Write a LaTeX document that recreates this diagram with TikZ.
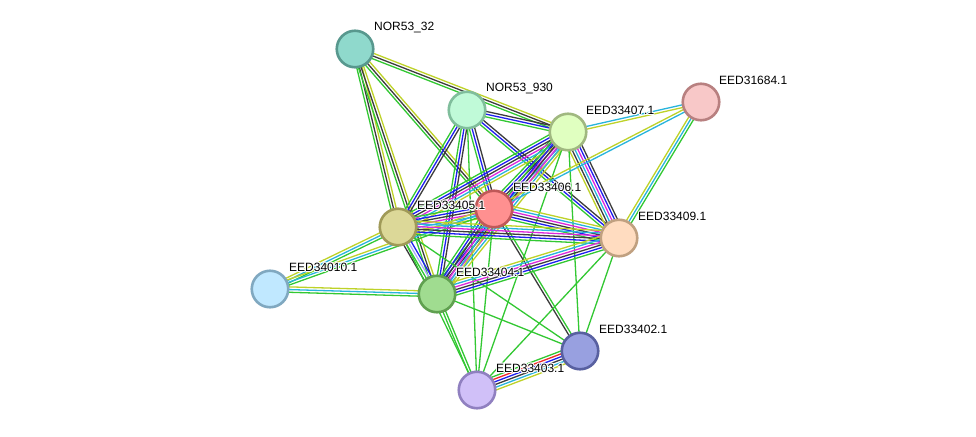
\documentclass[tikz,border=0pt]{standalone}
\usepackage{fontspec}
\setmainfont{Liberation Sans}
\usetikzlibrary{calc}
\pgfdeclarelayer{bg}
\pgfdeclarelayer{edges}
\pgfsetlayers{bg,edges,main}
\definecolor{cnbh}{RGB}{50,200,50}
\definecolor{cfus}{RGB}{240,40,40}
\definecolor{ccooc}{RGB}{30,30,240}
\definecolor{ccoexp}{RGB}{60,60,60}
\definecolor{cexp}{RGB}{220,40,220}
\definecolor{cdb}{RGB}{40,180,220}
\definecolor{ctext}{RGB}{190,210,40}
\definecolor{chom}{RGB}{170,170,250}
\newcommand\edgeb[4]{%
  \foreach \c [count=\i] in {#4}{%
    \pgfmathsetmacro\off{(\i-(#3+1)/2)*2.7}%
    \draw[edgeline, draw=\c] ($(#1)!\off pt!90:(#2)$) -- ($(#2)!\off pt!-90:(#1)$);
  }}
\newcommand\halo[1]{\leavevmode
  \rlap{\color{white}\hspace{-0.9pt}#1}\rlap{\color{white}\hspace{0.9pt}#1}%
  \rlap{\color{white}\raisebox{0.9pt}{#1}}\rlap{\color{white}\raisebox{-0.9pt}{#1}}%
  \rlap{\color{white}\hspace{0.7pt}\raisebox{0.7pt}{#1}}\rlap{\color{white}\hspace{-0.7pt}\raisebox{-0.7pt}{#1}}%
  \rlap{\color{white}\hspace{0.7pt}\raisebox{-0.7pt}{#1}}\rlap{\color{white}\hspace{-0.7pt}\raisebox{0.7pt}{#1}}%
  #1}
\tikzset{
  edgeline/.style={line width=1.3pt},
  prot/.style={circle, minimum size=36.5pt, inner sep=0pt, line width=2.6pt},
  lab/.style={anchor=west, inner sep=0pt, font=\fontsize{12}{14}\selectfont, text=black},
}
\begin{document}
\begin{tikzpicture}[x=1pt,y=-1pt]
\begin{pgfonlayer}{bg}
\fill[white] (0,0) rectangle (976,436);
\end{pgfonlayer}
\path[use as bounding box] (0,0) rectangle (976,436);
% nodes
\node[prot, fill={rgb,255:red,143;green,217;blue,204}, draw={rgb,255:red,88;green,152;blue,142}] (n32) at (355,49) {};
\node[prot, fill={rgb,255:red,192;green,250;blue,216}, draw={rgb,255:red,128;green,190;blue,156}] (n930) at (467,110) {};
\node[prot, fill={rgb,255:red,224;green,255;blue,192}, draw={rgb,255:red,160;green,184;blue,128}] (e407) at (568,132) {};
\node[prot, fill={rgb,255:red,248;green,200;blue,200}, draw={rgb,255:red,184;green,128;blue,128}] (e684) at (701,102) {};
\node[prot, fill={rgb,255:red,255;green,144;blue,144}, draw={rgb,255:red,192;green,88;blue,88}] (e406) at (494,209) {};
\node[prot, fill={rgb,255:red,220;green,216;blue,152}, draw={rgb,255:red,160;green,154;blue,88}] (e405) at (398,227) {};
\node[prot, fill={rgb,255:red,255;green,220;blue,192}, draw={rgb,255:red,192;green,160;blue,128}] (e409) at (619,238) {};
\node[prot, fill={rgb,255:red,192;green,232;blue,255}, draw={rgb,255:red,128;green,168;blue,192}] (e010) at (270,289) {};
\node[prot, fill={rgb,255:red,160;green,220;blue,144}, draw={rgb,255:red,96;green,160;blue,80}] (e404) at (437,294) {};
\node[prot, fill={rgb,255:red,152;green,160;blue,224}, draw={rgb,255:red,88;green,96;blue,160}] (e402) at (580,351) {};
\node[prot, fill={rgb,255:red,208;green,192;blue,248}, draw={rgb,255:red,144;green,128;blue,192}] (e403) at (477,390) {};
% edges
\begin{pgfonlayer}{edges}
\edgeb{n32}{e407}{3}{cnbh,ccoexp,ctext}
\edgeb{n32}{e406}{3}{cnbh,ccoexp,ctext}
\edgeb{n32}{e405}{3}{cnbh,ccoexp,ctext}
\edgeb{n32}{e404}{3}{cnbh,ccoexp,ctext}
\edgeb{n930}{e407}{3}{cnbh,ccooc,ccoexp}
\edgeb{n930}{e406}{3}{cnbh,ccooc,ccoexp}
\edgeb{n930}{e405}{3}{cnbh,ccooc,ccoexp}
\edgeb{n930}{e404}{3}{cnbh,ccooc,ccoexp}
\edgeb{n930}{e409}{3}{cnbh,ccooc,ccoexp}
\edgeb{n930}{e403}{1}{cnbh}
\edgeb{e407}{e684}{2}{ctext,cdb}
\edgeb{e407}{e406}{6}{cnbh,ccooc,ccoexp,cexp,cdb,ctext}
\edgeb{e407}{e405}{6}{cnbh,ccooc,ccoexp,cexp,cdb,ctext}
\edgeb{e407}{e404}{6}{cnbh,ccooc,ccoexp,cexp,cdb,ctext}
\edgeb{e407}{e409}{6}{ctext,ccoexp,cdb,cexp,ccooc,ccoexp}
\edgeb{e407}{e403}{1}{cnbh}
\edgeb{e407}{e402}{1}{cnbh}
\edgeb{e684}{e406}{2}{ctext,cdb}
\edgeb{e684}{e409}{3}{ctext,cdb,cnbh}
\edgeb{e406}{e405}{6}{cnbh,ccooc,ccoexp,cexp,cdb,ctext}
\edgeb{e406}{e404}{6}{cnbh,ccooc,ccoexp,cexp,cdb,ctext}
\edgeb{e406}{e409}{6}{cnbh,ccooc,ccoexp,cexp,cdb,ctext}
\edgeb{e406}{e402}{2}{ccoexp,cnbh}
\edgeb{e406}{e403}{1}{cnbh}
\edgeb{e010}{e405}{3}{cnbh,cdb,ctext}
\edgeb{e010}{e406}{3}{cnbh,cdb,ctext}
\edgeb{e010}{e404}{3}{cnbh,cdb,ctext}
\edgeb{e405}{e404}{4}{ccoexp,cnbh,chom,ccooc}
\edgeb{e405}{e409}{6}{cnbh,ccooc,ccoexp,cexp,cdb,ctext}
\edgeb{e405}{e403}{1}{cnbh}
\edgeb{e405}{e402}{1}{cnbh}
\edgeb{e404}{e409}{6}{cnbh,ccooc,ccoexp,cexp,cdb,ctext}
\edgeb{e404}{e403}{2}{cnbh,cnbh}
\edgeb{e404}{e402}{1}{cnbh}
\edgeb{e409}{e402}{1}{cnbh}
\edgeb{e409}{e403}{1}{cnbh}
\edgeb{e402}{e403}{6}{cnbh,cfus,ccooc,ccoexp,cdb,ctext}
\end{pgfonlayer}
% labels
\node[lab] (l32) at ($(n32)+(19,-21.5)$) {\halo{NOR53\_32}};
\node[lab] (l930) at ($(n930)+(19,-21.5)$) {\halo{NOR53\_930}};
\node[lab] (l407) at ($(e407)+(18,-21.5)$) {\halo{EED33407.1}};
\node[lab] (l684) at ($(e684)+(18,-21.5)$) {\halo{EED31684.1}};
\node[lab] (l406) at ($(e406)+(19,-21.5)$) {\halo{EED33406.1}};
\node[lab] (l405) at ($(e405)+(19,-21.5)$) {\halo{EED33405.1}};
\node[lab] (l409) at ($(e409)+(19,-21.5)$) {\halo{EED33409.1}};
\node[lab] (l010) at ($(e010)+(19,-21.5)$) {\halo{EED34010.1}};
\node[lab] (l404) at ($(e404)+(19,-21.5)$) {\halo{EED33404.1}};
\node[lab] (l402) at ($(e402)+(19,-21.5)$) {\halo{EED33402.1}};
\node[lab] (l403) at ($(e403)+(19,-21.5)$) {\halo{EED33403.1}};
\end{tikzpicture}
\end{document}
